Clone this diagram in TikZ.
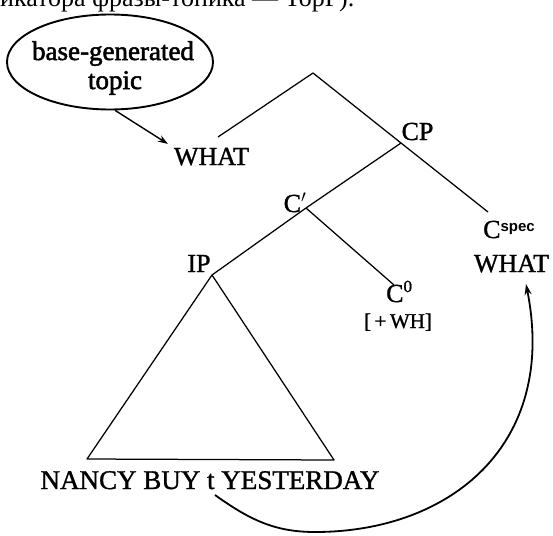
\documentclass[tikz,border=0pt]{standalone}
\usepackage{fontspec}
\setmainfont{Liberation Serif}
\newfontfamily\lblfont{Liberation Serif}[FakeBold=1.2]
\newfontfamily\bgfont{Liberation Serif}[FakeBold=2]
\newfontfamily\supsans{Liberation Sans}
\usetikzlibrary{shapes.geometric,arrows.meta}
\begin{document}
\begin{tikzpicture}[x=1pt,y=-1pt,
  lbl/.style={inner sep=0pt, anchor=base, font=\lblfont\fontsize{26}{29}\selectfont},
  branch/.style={line width=1.25pt, line join=round},
  bubble/.style={ellipse, draw, line width=1.9pt, minimum width=206pt, minimum height=95pt, inner sep=0pt},
  movearrow/.style={line width=1.8pt, -{Stealth[length=11pt,width=7pt]}},
  toparrow/.style={line width=1.4pt, -{Stealth[length=10pt,width=7pt]}}]
\useasboundingbox (0,0) rectangle (553,535);
\clip (0,0) rectangle (553,535);

% cut-off running text at the top
\node[inner sep=0pt, anchor=base west, font=\fontsize{26}{29}\selectfont] (title) at (0,7) {икатора фразы-топика — TopP).};

% base-generated topic
\node[bubble] (bg) at (110,62) {};
\node[lbl, font=\bgfont\fontsize{27}{29}\selectfont] (bgl1) at (113,60) {base-generated};
\node[lbl, font=\bgfont\fontsize{27}{29}\selectfont] (bgl2) at (115,89) {topic};

% labels
\node[lbl] (what1) at (211.5,165) {WHAT};
\node[lbl] (cp) at (417.5,140) {CP};
\node[lbl] (cbar) at (295,212) {C$'$};
\node[lbl, anchor=base west] (cspec) at (483,238) {C\raisebox{7pt}{\supsans\bfseries\fontsize{15}{15}\selectfont spec}};
\node[lbl] (what2) at (511.5,272) {WHAT};
\node[lbl] (ip) at (199,272) {IP};
\node[lbl, anchor=base west] (c0) at (386,302) {C\raisebox{10pt}{\fontsize{17}{17}\selectfont 0}};
\node[lbl, font=\lblfont\fontsize{21}{23}\selectfont] (wh) at (398,328) {[\,+\,WH]};
\node[lbl, font=\lblfont\fontsize{27}{29}\selectfont] (nancy) at (210,489) {NANCY BUY t YESTERDAY};

% tree junctions
\coordinate (apex) at (313,73);
\coordinate (cpj) at (401,143);
\coordinate (cbarj) at (306,208);
\coordinate (ipj) at (212,275);
\coordinate (whatend) at (218,137);
\coordinate (specend) at (488,212);
\coordinate (c0end) at (394,285);
\coordinate (tl) at (87,459);
\coordinate (tr) at (334,460);

\draw[branch] (whatend) -- (apex) -- (cpj) -- (specend);
\draw[branch] (cpj) -- (cbarj) -- (ipj);
\draw[branch] (cbarj) -- (c0end);
\draw[branch] (ipj) -- (tl) -- (tr) -- cycle;

% topic arrow
\draw[toparrow, shorten >=7pt] (bg.-84) -- (what1.north west);

% movement arrow
\coordinate (tpos) at (215,495);
\coordinate (bottom) at (315,532);
\coordinate (what2in) at (526,284);
\draw[movearrow] (tpos) .. controls (250,520) and (275,532) .. (bottom) .. controls (450,532) and (558,445) .. (what2in);
\end{tikzpicture}
\end{document}
